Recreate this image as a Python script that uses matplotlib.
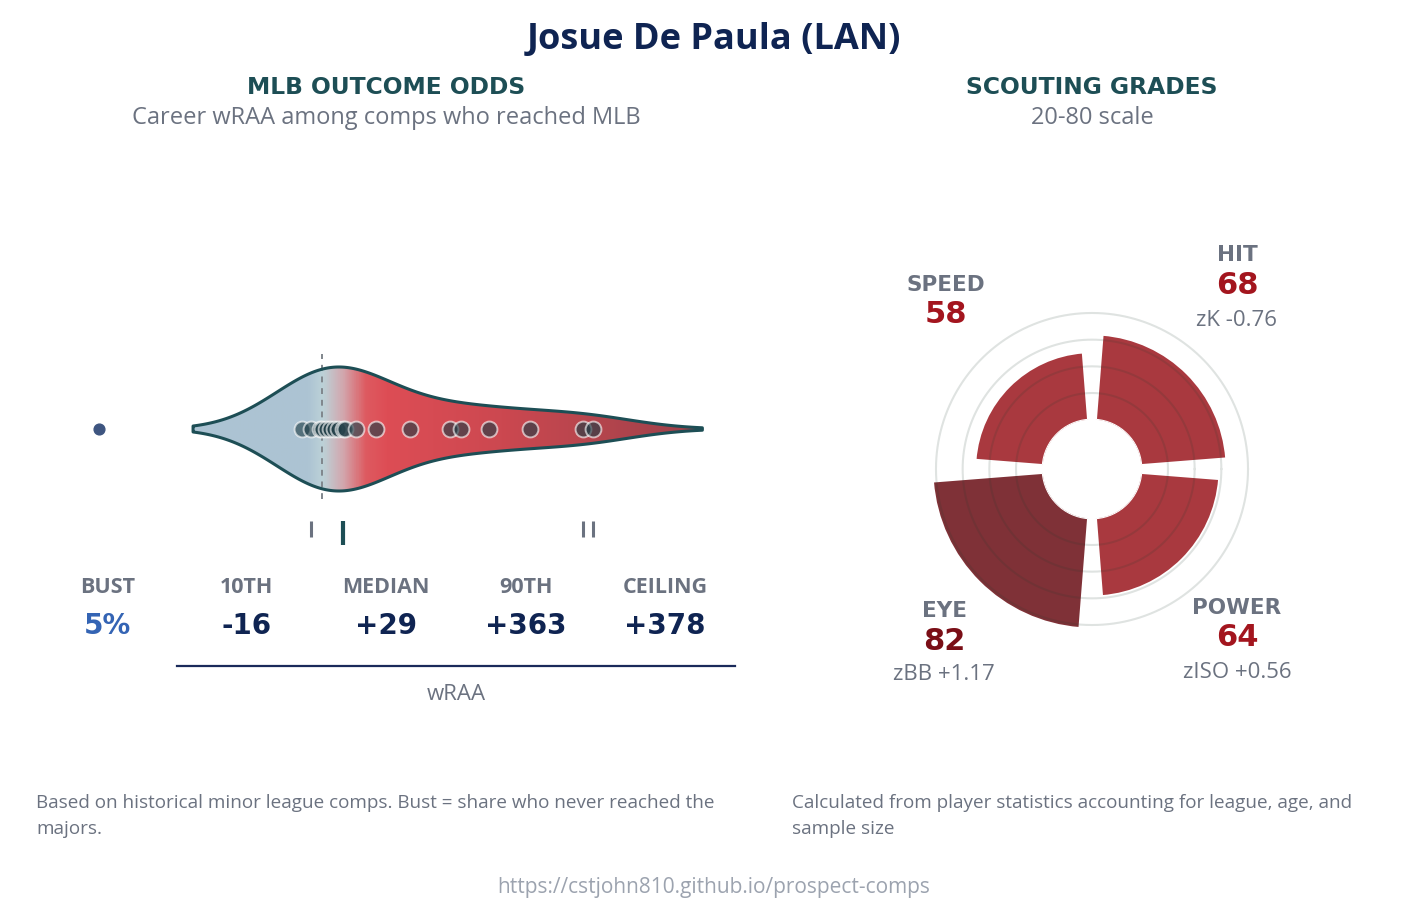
import numpy as np
import matplotlib
matplotlib.use("Agg")
import matplotlib.pyplot as plt
from matplotlib.colors import LinearSegmentedColormap
from matplotlib.patches import Polygon

W, H = 1428, 904

# ---- data ----
comp_wraa = [-28, -16, -3, 0, 6, 11, 17, 22, 29, 32, 47, 75, 122, 178, 194, 232, 290, 363, 378]
bust_wraa = -311          # where the "never reached MLB" dot sits
pct_p10, pct_median, pct_p90, pct_ceiling = -16, 29, 363, 378
stat_names = ["BUST", "10TH", "MEDIAN", "90TH", "CEILING"]
stat_texts = ["5%", "-16", "+29", "+363", "+378"]

grade_names = ["HIT", "SPEED", "EYE", "POWER"]
grade_values = [68, 58, 82, 64]
grade_angles = [45, 135, 225, 315]
grade_z = ["zK -0.76", "", "zBB +1.17", "zISO +0.56"]
grade_rings = [35, 50, 65, 80]

NAVY = "#0f2452"
TEAL = "#1d4e55"
GREY = "#6b7280"

plt.rcParams["font.family"] = ["Open Sans", "DejaVu Sans"]
HEAVY = dict(family="DejaVu Sans", fontweight="bold")

fig = plt.figure(figsize=(W / 100, H / 100), dpi=100)


def fxy(x, y):
    return x / W, 1 - y / H


# ---- headings ----
fig.text(*fxy(714, 40), "Josue De Paula (LAN)", ha="center", va="center",
         fontsize=26, fontweight="bold", color=NAVY)
fig.text(*fxy(386, 87), "MLB OUTCOME ODDS", ha="center", va="center",
         fontsize=16.8, color=TEAL, **HEAVY)
fig.text(*fxy(386, 118), "Career wRAA among comps who reached MLB", ha="center",
         va="center", fontsize=17, color=GREY)
fig.text(*fxy(1092, 87), "SCOUTING GRADES", ha="center", va="center",
         fontsize=16.8, color=TEAL, **HEAVY)
fig.text(*fxy(1092, 118), "20-80 scale", ha="center", va="center",
         fontsize=17, color=GREY)

# ---- left: violin of comps ----
ax = fig.add_axes([177 / W, 1 - 667 / H, 558 / W, 337 / H])
vals = np.array(comp_wraa, dtype=float)
bw = 76.0
xs = np.linspace(vals.min() - 2 * bw, vals.max() + 2 * bw, 500)
dens = np.exp(-0.5 * ((xs[:, None] - vals[None, :]) / bw) ** 2).sum(axis=1)
half = dens / dens.max() * 62

verts = np.vstack([np.column_stack([xs, half]),
                   np.column_stack([xs[::-1], -half[::-1]])])
poly = Polygon(verts, closed=True, facecolor="none", edgecolor=TEAL,
               linewidth=2.2, zorder=3, joinstyle="round")
ax.add_patch(poly)

x0, x1 = xs[0], xs[-1]
stops = [(-202, "#acc3d3"), (-20, "#adc4d3"), (0, "#bcd2d8"), (28, "#d2a7ae"),
         (60, "#de5a60"), (90, "#dd4d55"), (250, "#cc4850"), (540, "#9c414a")]
cmap = LinearSegmentedColormap.from_list(
    "violin", [((min(max(v, x0), x1) - x0) / (x1 - x0), c) for v, c in stops])
grad = np.linspace(0, 1, 800)[None, :]
im = ax.imshow(grad, cmap=cmap, extent=[x0, x1, -70, 70], aspect="auto",
               interpolation="bilinear", zorder=1)
im.set_clip_path(poly)

ax.plot([0, 0], [-70, 75], color="#80868c", lw=1.4, ls=(0, (3, 3)), zorder=2)
ax.scatter(vals, np.zeros_like(vals), s=130, facecolor="#1f3d46", alpha=0.62,
           edgecolor="white", linewidth=1.4, zorder=4)
ax.scatter([bust_wraa], [0], s=60, color="#3e5580", zorder=4, clip_on=False)

# percentile ticks
for v in (pct_p10, pct_p90, pct_ceiling):
    ax.plot([v, v], [-92, -108], color=GREY, lw=2.2, solid_capstyle="butt")
ax.plot([pct_median, pct_median], [-92, -116], color=TEAL, lw=3, solid_capstyle="butt")

tr = ax.get_yaxis_transform()
for i, (name, txt) in enumerate(zip(stat_names, stat_texts)):
    xa = -0.125 + 0.25 * i
    ax.text(xa, -158, name, transform=tr, ha="center", va="center",
            fontsize=15.5, fontweight="bold", color=GREY, clip_on=False)
    ax.text(xa, -196, txt, transform=tr, ha="center", va="center", fontsize=20,
            color="#3464b4" if i == 0 else NAVY, clip_on=False, **HEAVY)

ax.set_xlim(-202.4, 575.5)
ax.set_ylim(-237, 100)
for s in ("top", "left", "right"):
    ax.spines[s].set_visible(False)
ax.spines["bottom"].set_color("#1a2a5a")
ax.spines["bottom"].set_linewidth(1.6)
ax.set_xticks([])
ax.set_yticks([])
ax.set_xlabel("wRAA", fontsize=16, color=GREY, labelpad=12)

# ---- right: polar grade chart ----
R = 173.8
axp = fig.add_axes([(1092 - R) / W, 1 - (470 + R) / H, 2 * R / W, 2 * R / H],
                   projection="polar")
axp.set_rorigin(-7.73)
axp.set_ylim(20, 90)
colors = ["#7f3137" if g >= 80 else "#a9393f" for g in grade_values]
axp.bar(np.deg2rad(grade_angles), np.array(grade_values) - 20, bottom=20,
        width=np.deg2rad(81), color=colors, edgecolor="white", linewidth=1.5,
        zorder=1)
ring_t = np.linspace(0, 2 * np.pi, 361)
for r in grade_rings:
    axp.plot(ring_t, np.full_like(ring_t, r), color="#1e3a2e", alpha=0.14,
             lw=1.5, zorder=2)
axp.axis("off")

label_pos = {
    "HIT": (1237, 255, 286, 320),
    "SPEED": (946, 285, 315, None),
    "EYE": (944, 611, 642, 675),
    "POWER": (1237, 608, 638, 672),
}
for name, g, z in zip(grade_names, grade_values, grade_z):
    x, yn, yv, yz = label_pos[name]
    fig.text(*fxy(x, yn), name, ha="center", va="center", fontsize=15.5,
             color=GREY, **HEAVY)
    fig.text(*fxy(x, yv), str(g), ha="center", va="center", fontsize=22,
             color="#7a0e16" if g >= 80 else "#a3151e", **HEAVY)
    if z:
        fig.text(*fxy(x, yz), z, ha="center", va="center", fontsize=16, color=GREY)

# ---- footnotes ----
fig.text(*fxy(36, 816), "Based on historical minor league comps. Bust = share who never reached the\nmajors.",
         ha="left", va="center", fontsize=13.6, color=GREY, linespacing=1.6)
fig.text(*fxy(792, 816), "Calculated from player statistics accounting for league, age, and\nsample size",
         ha="left", va="center", fontsize=13.6, color=GREY, linespacing=1.6)
fig.text(*fxy(714, 888), "https://cstjohn810.github.io/prospect-comps", ha="center",
         va="center", fontsize=15, color="#9ca3af")

fig.savefig("out.png", dpi=100)
